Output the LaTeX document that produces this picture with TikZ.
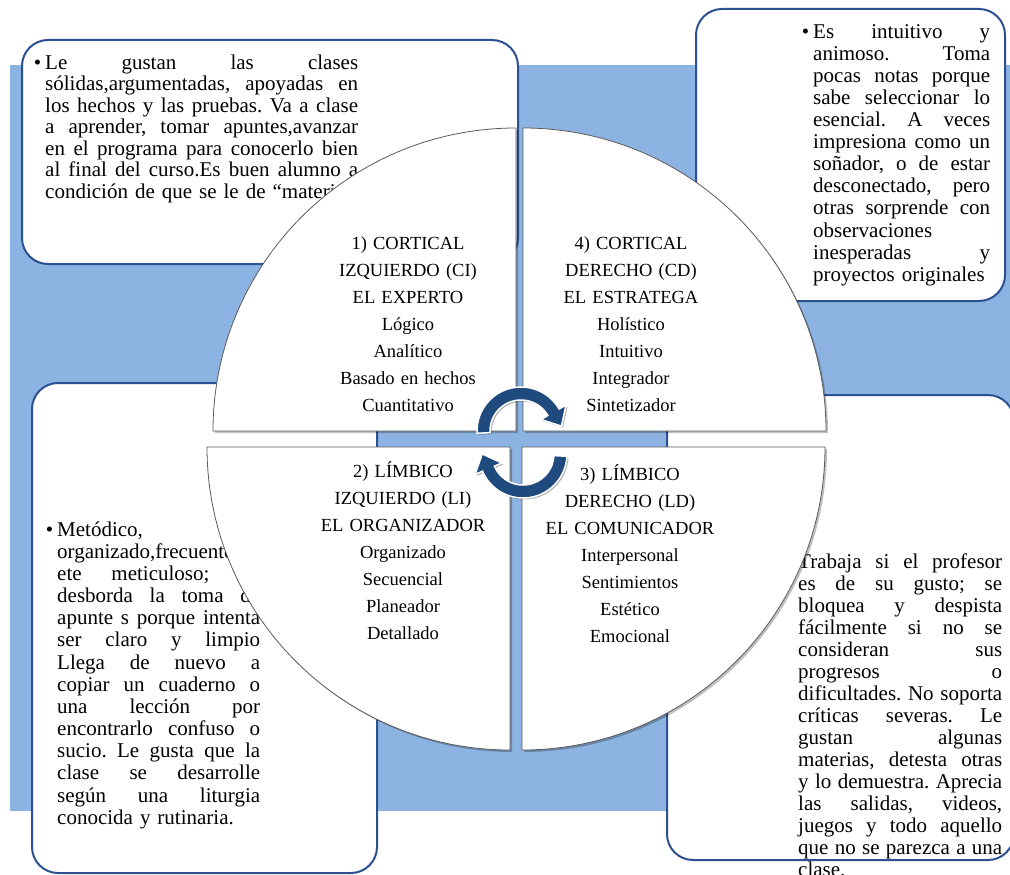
\documentclass[tikz,border=0pt]{standalone}
\usepackage{fontspec}
\setmainfont{Liberation Serif}
\usetikzlibrary{shadows,calc}
\setlength{\parindent}{0pt}
\frenchspacing
\definecolor{bgblue}{HTML}{8DB3E2}
\definecolor{boxline}{HTML}{2C5191}
\definecolor{arrowblue}{HTML}{1F4A7D}
\definecolor{quadline}{HTML}{5A5A5A}
\def\boxw{100pt}
\newcommand\jl[1]{\leavevmode\hbox to \boxw{\spaceskip=.25em plus 1fil minus .05em\relax #1}\\}
\newcommand\bul{\llap{\textbullet\hspace{4pt}}}
\tikzset{
 infobox/.style={fill=white, draw=boxline, line width=2pt, rounded corners=26pt},
 boxtext/.style={anchor=north west, inner sep=0pt, align=left},
 quad/.style={fill=white, draw=quadline, line width=0.8pt,
   drop shadow={shadow xshift=2pt, shadow yshift=-2pt, opacity=0.25, fill=black}},
 quadtext/.style={anchor=north, inner sep=0pt, align=center, text width=260pt,
   font=\fontsize{18.5}{27}\selectfont},
 cyclearrow/.style={fill=arrowblue, draw=white, line width=1.5pt,
   drop shadow={shadow xshift=1.5pt, shadow yshift=-1.5pt, opacity=0.3, fill=black}},
}
\begin{document}
\begin{tikzpicture}[x=1pt,y=-1pt]
\useasboundingbox[fill=white] (0,0) rectangle (1010,875);
\fill[bgblue] (10,65) rectangle (1010,811);
% boxes
\draw[infobox] (22,40) rectangle (518,264);
\draw[infobox] (696,9) rectangle (1005,301);
\draw[infobox] (32,383) rectangle (377,873);
\draw[infobox] (667,395) rectangle (1014,860);
% box texts
\node[boxtext, text width=313pt, font=\fontsize{21}{21.5}\selectfont] (tltext) at (45,53.95) {%
\def\boxw{313pt}%
\jl{\bul\strut Le gustan las clases}%
\jl{sólidas,argumentadas, apoyadas en}%
\jl{los hechos y las pruebas. Va a clase}%
\jl{a aprender, tomar apuntes,avanzar}%
\jl{en el programa para conocerlo bien}%
\jl{al final del curso.Es buen alumno a}%
condición de que se le de “materia”};
\node[boxtext, text width=177pt, font=\fontsize{21}{22.1}\selectfont] (trtext) at (813,22.5) {%
\def\boxw{177pt}%
\jl{\bul\strut Es intuitivo y}%
\jl{animoso. Toma}%
\jl{pocas notas porque}%
\jl{sabe seleccionar lo}%
\jl{esencial. A veces}%
\jl{impresiona como un}%
\jl{soñador, o de estar}%
\jl{desconectado, pero}%
\jl{otras sorprende con}%
observaciones\\%
\jl{inesperadas y}%
proyectos originales};
\node[boxtext, text width=203pt, font=\fontsize{21}{22.15}\selectfont] (bltext) at (57,520.5) {%
\def\boxw{203pt}%
\leavevmode\bul\strut Metódico,\\%
organizado,frecuentem\\%
\jl{ete meticuloso; no}%
\jl{desborda la toma de}%
\jl{apunte s porque intenta}%
\jl{ser claro y limpio}%
\jl{Llega de nuevo a}%
\jl{copiar un cuaderno o}%
\jl{una lección por}%
\jl{encontrarlo confuso o}%
\jl{sucio. Le gusta que la}%
\jl{clase se desarrolle}%
\jl{según una liturgia}%
conocida y rutinaria.};
\node[boxtext, text width=204pt, font=\fontsize{21}{22}\selectfont] (brtext) at (798,552.6) {%
\def\boxw{204pt}%
\jl{\bul\strut Trabaja si el profesor}%
\jl{es de su gusto; se}%
\jl{bloquea y despista}%
\jl{fácilmente si no se}%
\jl{consideran sus}%
\jl{progresos o}%
\jl{dificultades. No soporta}%
\jl{críticas severas. Le}%
\jl{gustan algunas}%
\jl{materias, detesta otras}%
\jl{y lo demuestra. Aprecia}%
\jl{las salidas, videos,}%
\jl{juegos y todo aquello}%
\jl{que no se parezca a una}%
clase.};
% quadrants
\path[quad] (516,431) -- (213,431) arc[start angle=180, end angle=270, radius=303] -- cycle;
\path[quad] (523,431) -- (523,128) arc[start angle=270, end angle=360, radius=303] -- cycle;
\path[quad] (510,447) -- (207,447) arc[start angle=180, end angle=90, radius=303] -- cycle;
\path[quad] (522,447) -- (825,447) arc[start angle=0, end angle=90, radius=303] -- cycle;
% quadrant texts
\node[quadtext] (ci) at (408,230.1) {\strut 1) CORTICAL\\IZQUIERDO (CI)\\EL EXPERTO\\Lógico\\Analítico\\Basado en hechos\\Cuantitativo};
\node[quadtext] (cd) at (631,230.1) {\strut 4) CORTICAL\\DERECHO (CD)\\EL ESTRATEGA\\Holístico\\Intuitivo\\Integrador\\Sintetizador};
\node[quadtext] (li) at (403,458.1) {\strut 2) LÍMBICO\\IZQUIERDO (LI)\\EL ORGANIZADOR\\Organizado\\Secuencial\\Planeador\\Detallado};
\node[quadtext] (ld) at (630,461.1) {\strut 3) LÍMBICO\\DERECHO (LD)\\EL COMUNICADOR\\Interpersonal\\Sentimientos\\Estético\\Emocional};
% cycle arrows
\coordinate (ctop) at (521,431);
\coordinate (cbot) at (523,454);
\path[cyclearrow] ($(ctop)+(177:44)$) arc[start angle=177, end angle=330, radius=44]
  -- ($(ctop)+(330:52)$) -- ($(ctop)+(330:37.5)+(60:16)$) -- ($(ctop)+(330:23)$)
  -- ($(ctop)+(330:31)$) arc[start angle=330, end angle=177, radius=31] -- cycle;
\path[cyclearrow] ($(cbot)+(363:44)$) arc[start angle=363, end angle=517, radius=44]
  -- ($(cbot)+(517:52)$) -- ($(cbot)+(517:37.5)+(607:16)$) -- ($(cbot)+(517:23)$)
  -- ($(cbot)+(517:31)$) arc[start angle=517, end angle=363, radius=31] -- cycle;
\end{tikzpicture}
\end{document}
